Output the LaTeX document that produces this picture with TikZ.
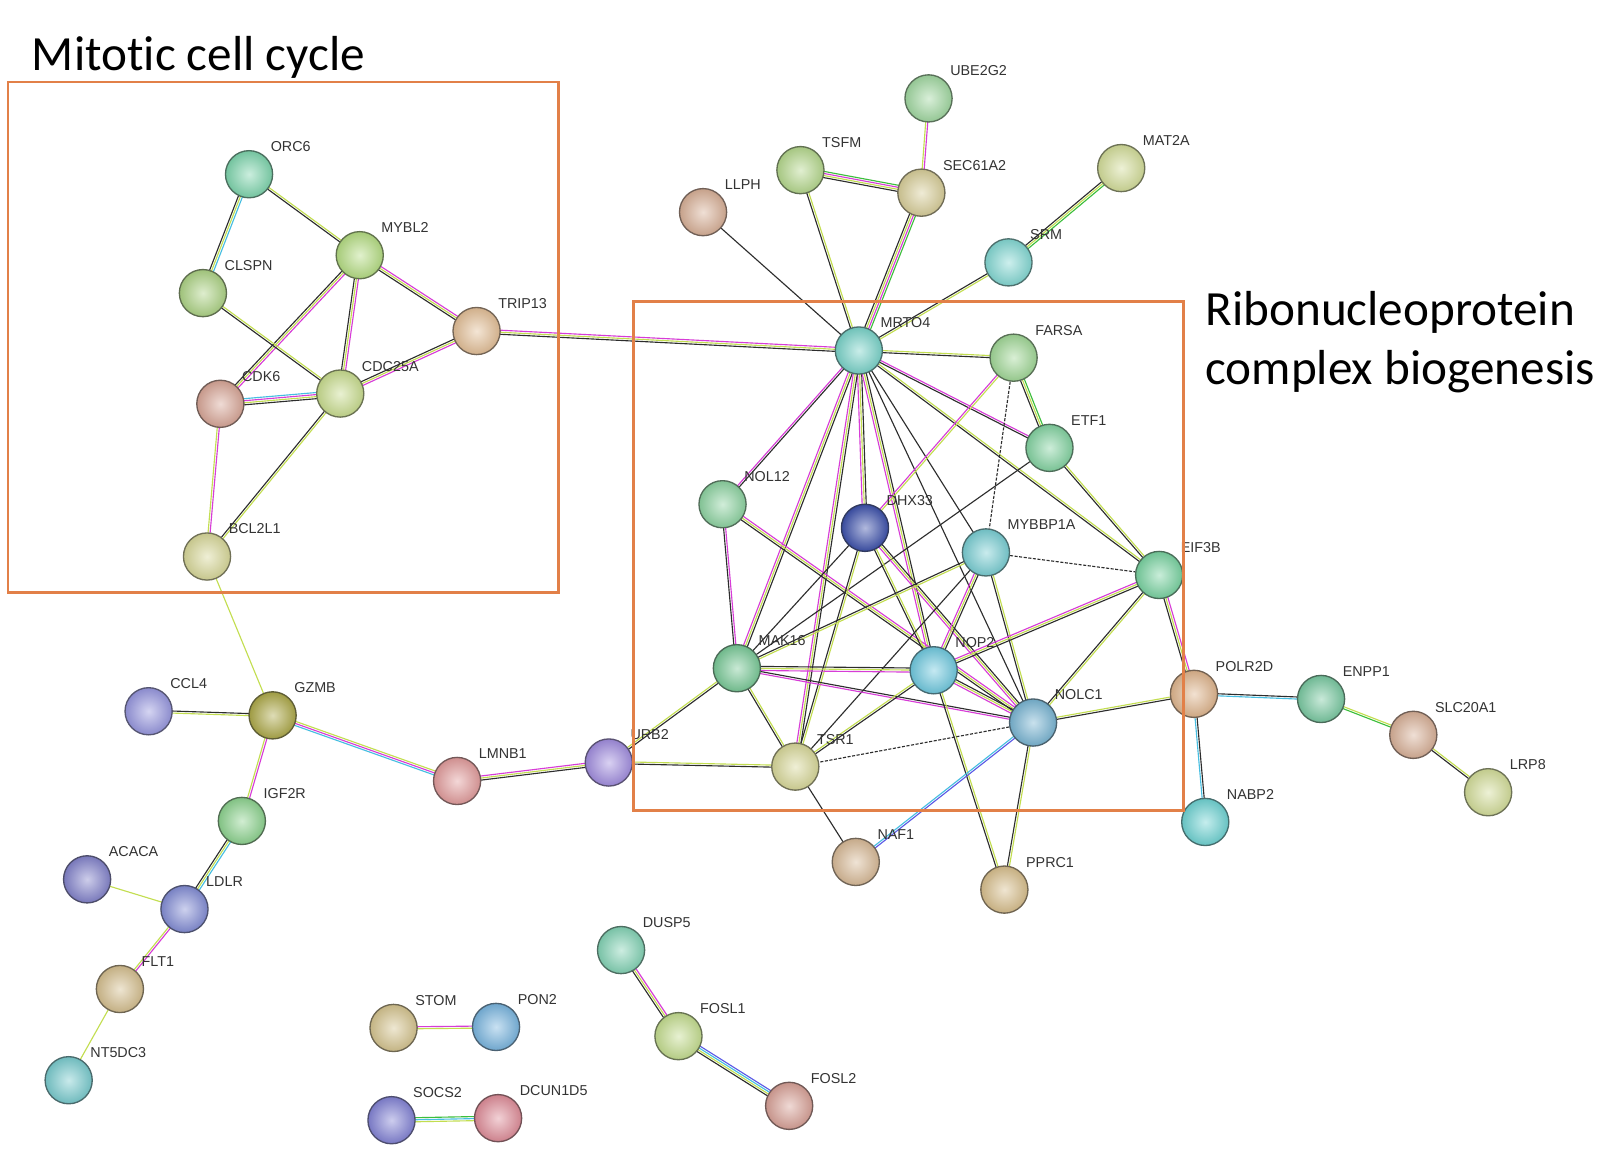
\documentclass[tikz,border=0pt]{standalone}
\usepackage{fontspec}
\setmainfont{Liberation Sans}
\newfontfamily\carl[Ligatures={NoCommon}]{Carlito}
\usetikzlibrary{calc}
\pgfdeclarelayer{bg}
\pgfsetlayers{bg,main}
\definecolor{eK}{RGB}{45,45,45}
\definecolor{eY}{RGB}{195,222,80}
\definecolor{eM}{RGB}{215,60,215}
\definecolor{eC}{RGB}{70,190,225}
\definecolor{eG}{RGB}{60,190,60}
\definecolor{eB}{RGB}{90,90,230}
\definecolor{boxc}{RGB}{226,128,72}
\tikzset{
  ball/.style={circle, minimum size=46pt, inner sep=0pt, line width=1.3pt,
    draw=#1!50!black!80!gray, inner color=#1!40!white, outer color=#1!92!black},
  lab/.style={inner sep=0pt, anchor=base west, text=black!80,
    font=\fontsize{14}{16}\selectfont},
  ttl/.style={inner sep=0pt, anchor=base west, text=black,
    font=\carl\fontsize{48}{58}\selectfont},
  grp/.style={draw=boxc, line width=2.5pt},
  dedge/.style={eK, line width=1.1pt, dash pattern=on 3pt off 1.5pt}
}
\newcommand\bnode[5]{%
  \definecolor{bc}{RGB}{#4}%
  \node[ball=bc] (#1) at (#2,#3) {};%
  \node[lab] (#1-l) at ($(#1)+(21,-22)$) {#5};%
}
\newcommand\bedge[3]{%
  \foreach \cc [count=\ii] in {#3} {\xdef\nE{\ii}}%
  \foreach \cc [count=\ii] in {#3} {%
    \pgfmathsetmacro\off{(\ii-(\nE+1)/2)*2.0}%
    \draw[line width=1.1pt, \cc] ($(#1)!\off pt!90:(#2)$) -- ($(#2)!\off pt!-90:(#1)$);%
  }%
}
\begin{document}
\begin{tikzpicture}[x=1pt,y=-1pt]
\begin{pgfonlayer}{bg}
\fill[white] (0,0) rectangle (1568,1124);
\end{pgfonlayer}
\useasboundingbox (0,0) rectangle (1568,1124);
% nodes
\bnode{ORC6}{243}{170}{125,212,172}{ORC6}
\bnode{MYBL2}{351}{249}{180,220,130}{MYBL2}
\bnode{CLSPN}{198}{286}{172,210,132}{CLSPN}
\bnode{TRIP13}{465}{323}{226,190,150}{TRIP13}
\bnode{CDK6}{215}{394}{215,165,150}{CDK6}
\bnode{CDC25A}{332}{384}{200,220,142}{CDC25A}
\bnode{BCL2L1}{202}{543}{215,215,152}{BCL2L1}
\bnode{GZMB}{266}{698}{172,168,72}{GZMB}
\bnode{CCL4}{145}{694}{150,150,222}{CCL4}
\bnode{LMNB1}{446}{762}{225,155,155}{LMNB1}
\bnode{URB2}{594}{744}{160,140,222}{URB2}
\bnode{IGF2R}{236}{801}{140,210,142}{IGF2R}
\bnode{ACACA}{85}{858}{130,130,202}{ACACA}
\bnode{LDLR}{180}{887}{130,140,212}{LDLR}
\bnode{FLT1}{117}{965}{212,190,142}{FLT1}
\bnode{NT5DC3}{67}{1054}{120,202,205}{NT5DC3}
\bnode{STOM}{384}{1003}{212,195,142}{STOM}
\bnode{PON2}{484}{1002}{120,180,222}{PON2}
\bnode{SOCS2}{382}{1093}{130,130,212}{SOCS2}
\bnode{DCUN1D5}{486}{1091}{222,140,152}{DCUN1D5}
\bnode{DUSP5}{606}{927}{130,210,180}{DUSP5}
\bnode{FOSL1}{662}{1011}{195,220,142}{FOSL1}
\bnode{FOSL2}{770}{1079}{215,160,150}{FOSL2}
\bnode{UBE2G2}{906}{96}{160,215,160}{UBE2G2}
\bnode{TSFM}{781}{166}{180,215,140}{TSFM}
\bnode{SEC61A2}{899}{188}{215,205,152}{SEC61A2}
\bnode{LLPH}{686}{207}{215,175,150}{LLPH}
\bnode{MAT2A}{1094}{164}{210,220,152}{MAT2A}
\bnode{SRM}{984}{256}{130,215,210}{SRM}
\bnode{MRTO4}{838}{342}{120,210,200}{MRTO4}
\bnode{FARSA}{989}{349}{160,215,150}{FARSA}
\bnode{ETF1}{1024}{437}{130,210,160}{ETF1}
\bnode{NOL12}{705}{492}{140,210,160}{NOL12}
\bnode{DHX33}{844}{515}{60,80,170}{DHX33}
\bnode{MYBBP1A}{962}{539}{120,205,210}{MYBBP1A}
\bnode{EIF3B}{1131}{561}{120,210,160}{EIF3B}
\bnode{MAK16}{719}{652}{120,200,150}{MAK16}
\bnode{NOP2}{911}{654}{110,200,222}{NOP2}
\bnode{NOLC1}{1008}{705}{120,180,210}{NOLC1}
\bnode{TSR1}{776}{748}{215,215,152}{TSR1}
\bnode{POLR2D}{1165}{677}{222,180,140}{POLR2D}
\bnode{ENPP1}{1289}{682}{120,200,160}{ENPP1}
\bnode{SLC20A1}{1379}{717}{215,175,150}{SLC20A1}
\bnode{LRP8}{1452}{773}{210,220,152}{LRP8}
\bnode{NABP2}{1176}{802}{110,210,210}{NABP2}
\bnode{NAF1}{835}{841}{215,185,150}{NAF1}
\bnode{PPRC1}{980}{868}{215,190,140}{PPRC1}
% edges
\begin{pgfonlayer}{bg}
\bedge{ORC6}{CLSPN}{eK,eY,eC}
\bedge{ORC6}{MYBL2}{eK,eY}
\bedge{MYBL2}{TRIP13}{eK,eY,eM}
\bedge{MYBL2}{CDK6}{eK,eY,eM}
\bedge{MYBL2}{CDC25A}{eK,eY,eM}
\bedge{CLSPN}{CDC25A}{eK,eY}
\bedge{CDK6}{CDC25A}{eK,eY,eM,eC}
\bedge{TRIP13}{CDC25A}{eK,eY,eM}
\bedge{CDC25A}{BCL2L1}{eK,eY}
\bedge{CDK6}{BCL2L1}{eY,eM}
\bedge{TRIP13}{MRTO4}{eK,eY,eM}
\bedge{BCL2L1}{GZMB}{eY}
\bedge{GZMB}{CCL4}{eK,eY}
\bedge{GZMB}{LMNB1}{eC,eM,eY}
\bedge{GZMB}{IGF2R}{eY,eM}
\bedge{IGF2R}{LDLR}{eK,eY,eC}
\bedge{ACACA}{LDLR}{eY}
\bedge{LDLR}{FLT1}{eY,eM}
\bedge{FLT1}{NT5DC3}{eY}
\bedge{LMNB1}{URB2}{eK,eY,eM}
\bedge{URB2}{TSR1}{eK,eY}
\bedge{URB2}{MAK16}{eK,eY}
\bedge{STOM}{PON2}{eY,eM}
\bedge{SOCS2}{DCUN1D5}{eY,eC,eG}
\bedge{DUSP5}{FOSL1}{eK,eY,eM}
\bedge{FOSL1}{FOSL2}{eK,eY,eC,eB}
\bedge{UBE2G2}{SEC61A2}{eY,eM}
\bedge{TSFM}{SEC61A2}{eK,eY,eM,eG}
\bedge{TSFM}{MRTO4}{eK,eY}
\bedge{SEC61A2}{MRTO4}{eK,eY,eM,eG}
\bedge{LLPH}{MRTO4}{eK}
\bedge{MAT2A}{SRM}{eK,eY,eG}
\bedge{SRM}{MRTO4}{eK,eY}
\bedge{MRTO4}{FARSA}{eK,eY}
\bedge{MRTO4}{ETF1}{eK,eM}
\bedge{MRTO4}{NOL12}{eM,eK}
\bedge{MRTO4}{MAK16}{eM,eY,eK}
\bedge{MRTO4}{DHX33}{eM,eY,eK}
\bedge{MRTO4}{TSR1}{eM,eY,eK}
\bedge{MRTO4}{NOP2}{eM,eY,eK}
\bedge{MRTO4}{NOLC1}{eK}
\bedge{MRTO4}{MYBBP1A}{eK}
\bedge{MRTO4}{EIF3B}{eK,eY}
\bedge{FARSA}{ETF1}{eK,eY,eG}
\bedge{FARSA}{DHX33}{eM,eY}
\draw[dedge] (FARSA) -- (MYBBP1A);
\bedge{ETF1}{MAK16}{eK}
\bedge{ETF1}{EIF3B}{eK,eY}
\bedge{NOL12}{MAK16}{eK,eM}
\bedge{NOL12}{NOLC1}{eK,eY,eM}
\bedge{DHX33}{MAK16}{eK}
\bedge{DHX33}{TSR1}{eK,eY}
\bedge{DHX33}{NOP2}{eK,eY}
\bedge{DHX33}{NOLC1}{eM,eY,eK}
\bedge{MYBBP1A}{MAK16}{eK,eY}
\bedge{MYBBP1A}{NOP2}{eM,eY,eK}
\bedge{MYBBP1A}{TSR1}{eK}
\bedge{MYBBP1A}{NOLC1}{eK,eY}
\draw[dedge] (MYBBP1A) -- (EIF3B);
\bedge{EIF3B}{NOP2}{eM,eY,eK}
\bedge{EIF3B}{NOLC1}{eK,eY}
\bedge{EIF3B}{POLR2D}{eK,eY,eM}
\bedge{MAK16}{NOP2}{eM,eY,eK}
\bedge{MAK16}{NOLC1}{eM,eK}
\bedge{MAK16}{TSR1}{eK,eY}
\bedge{NOP2}{NOLC1}{eM,eY,eK}
\bedge{NOP2}{TSR1}{eY,eK}
\bedge{NOP2}{PPRC1}{eK,eY}
\draw[dedge] (NOLC1) -- (TSR1);
\bedge{NOLC1}{POLR2D}{eK,eY}
\bedge{NOLC1}{NAF1}{eC,eB}
\bedge{NOLC1}{PPRC1}{eK,eY}
\bedge{TSR1}{NAF1}{eK}
\bedge{POLR2D}{ENPP1}{eC,eK}
\bedge{POLR2D}{NABP2}{eC,eK}
\bedge{ENPP1}{SLC20A1}{eG,eY}
\bedge{SLC20A1}{LRP8}{eK,eY}
\end{pgfonlayer}
% group boxes and titles
\draw[grp] (8,80) rectangle (545,578);
\draw[grp] (618,294) rectangle (1155,791);
\node[ttl] (t1) at (31,69) {Mitot\kern0pt ic cell cycle};
\node[ttl] (t2) at (1176,318) {Ribonucleoprotein};
\node[ttl] (t3) at (1176,375) {complex biogenesis};
\end{tikzpicture}
\end{document}
